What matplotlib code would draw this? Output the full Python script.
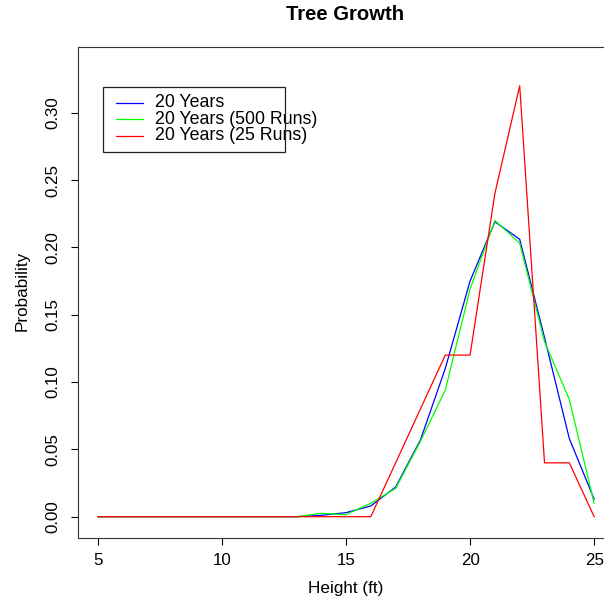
import numpy as np
import matplotlib
matplotlib.use("Agg")
import matplotlib.pyplot as plt
from matplotlib.patches import Rectangle
from matplotlib.lines import Line2D

plt.rcParams['font.family'] = ['Liberation Sans', 'DejaVu Sans']

# data
heights = list(range(5, 26))
years20 = [0, 0, 0, 0, 0, 0, 0, 0, 0, 0.001, 0.003, 0.008, 0.022, 0.057,
           0.110, 0.175, 0.219, 0.206, 0.133, 0.058, 0.013]
runs500 = [0, 0, 0, 0, 0, 0, 0, 0, 0, 0.0025, 0.0015, 0.010, 0.021, 0.056,
           0.094, 0.169, 0.220, 0.203, 0.130, 0.087, 0.010]
runs25 = [0, 0, 0, 0, 0, 0, 0, 0, 0, 0, 0, 0, 0.04, 0.08,
          0.12, 0.12, 0.24, 0.32, 0.04, 0.04, 0]

labels = ["20 Years", "20 Years (500 Runs)", "20 Years (25 Runs)"]
colors = ["#0000FF", "#00FF00", "#FF0000"]
xticks = [5, 10, 15, 20, 25]
yticks = [0.0, 0.05, 0.10, 0.15, 0.20, 0.25, 0.30]

W, H = 604, 601
fig = plt.figure(figsize=(W / 100, H / 100), dpi=100)
# plot box runs past the right edge (picture is cropped there)
ax = fig.add_axes([78 / W, (H - 537.7) / H, (614 - 78) / W, 491 / H])

for ys, c in zip([years20, runs500, runs25], colors):
    ax.plot(heights, ys, color=c, lw=0.9)

ax.set_xlim(4.2, 25.8)
ax.set_ylim(-0.0156, 0.349)
ax.set_xticks(xticks)
ax.set_yticks(yticks)
ax.set_xticklabels([str(v) for v in xticks], fontsize=12.2)
ax.set_yticklabels(["%.2f" % v for v in yticks], fontsize=12.2,
                   rotation=90, va="center")
ax.tick_params(direction="out", length=5, width=0.8, pad=6)
ax.tick_params(axis="y", pad=8)
for s in ax.spines.values():
    s.set_linewidth(0.8)
    s.set_color("#333333")

fig.text(346 / W, 1 - 589 / H, "Height (ft)", ha="center", va="center", fontsize=12.3)
fig.text(22 / W, 1 - 291 / H, "Probability", ha="center", va="center",
         rotation=90, fontsize=12.3)
fig.text(345 / W, 1 - 15 / H, "Tree Growth", ha="center", va="center",
         fontsize=14.6, fontweight="bold")

# R style legend, text spills over the box
fig.patches.append(Rectangle((103 / W, 1 - 152 / H), (285 - 103) / W, (152 - 87) / H,
                             transform=fig.transFigure, fill=False,
                             edgecolor="#222222", lw=0.9, zorder=5))
for i, (lab, c) in enumerate(zip(labels, colors)):
    yy = 1 - (102.5 + 16.5 * i) / H
    fig.lines.append(Line2D([116 / W, 143 / W], [yy, yy], color=c, lw=0.9,
                            transform=fig.transFigure))
    fig.text(155 / W, yy, lab, ha="left", va="center", fontsize=12.8)

fig.savefig("out.png", dpi=100)
